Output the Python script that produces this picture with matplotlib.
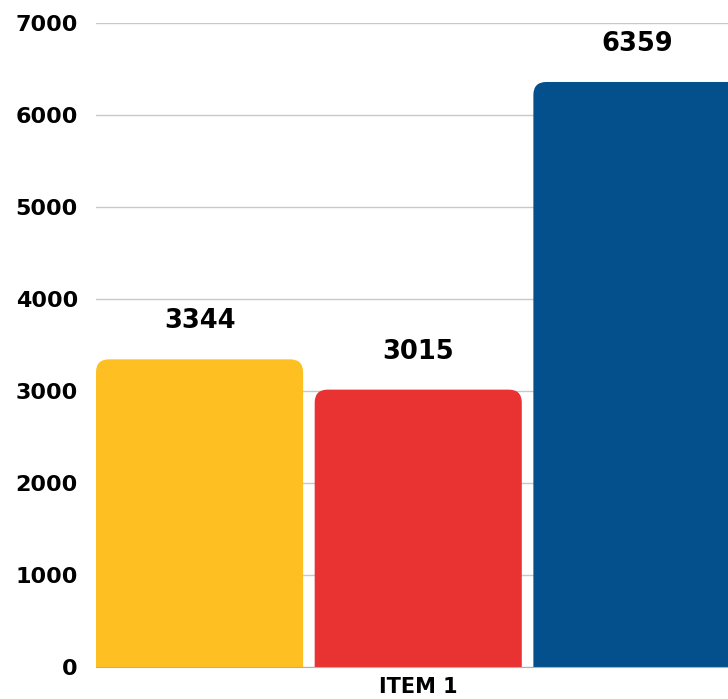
import numpy as np
import matplotlib.pyplot as plt
from matplotlib.patches import FancyBboxPatch

# data
categories = ['ITEM 1']
series_names = ['A', 'B', 'C']
values = [3344, 3015, 6359]
colors = ['#FDBF22', '#E93232', '#04508C']
offsets = [-1, 0, 1]
yticks = [0, 1000, 2000, 3000, 4000, 5000, 6000, 7000]

W, H = 728, 699
fig = plt.figure(figsize=(W / 100, H / 100), dpi=100)
ax = fig.add_axes([96 / W, 32 / H, (W - 96) / W, (667 - 23) / H])

width = 0.947
xmin, xmax = -1 - width / 2, (728 - 418.5) / 218.5
ax.set_xlim(xmin, xmax)
ax.set_ylim(0, 7000)

# aspect for round corners (y units per px / x units per px)
xpp = (xmax - xmin) / (W - 96)
ypp = 7000 / (667 - 23)
aspect = ypp / xpp
r = 13 * xpp

for off, v, c in zip(offsets, values, colors):
    bottom = -400
    p = FancyBboxPatch((off - width / 2, bottom), width, v - bottom,
                       boxstyle="round,pad=0,rounding_size=%f" % r,
                       mutation_aspect=aspect, facecolor=c, edgecolor='none',
                       zorder=3)
    ax.add_patch(p)
    ax.text(off, v + 38 * ypp, str(v), ha='center', va='center',
            fontsize=18.5, fontweight='bold', color='black', zorder=4)

ax.set_yticks(yticks)
ax.set_yticklabels([str(t) for t in yticks], fontsize=16, fontweight='bold')
ax.set_xticks([0])
ax.set_xticklabels(categories, fontsize=15, fontweight='bold')
ax.tick_params(axis='y', length=0, pad=13)
ax.tick_params(axis='x', length=0, pad=7)
ax.grid(axis='y', color='#c8c8c8', linewidth=1, zorder=0)
for s in ['top', 'right', 'left']:
    ax.spines[s].set_visible(False)
ax.spines['bottom'].set_color('#b0b0b0')
ax.spines['bottom'].set_zorder(5)

fig.savefig('out.png', dpi=100)
